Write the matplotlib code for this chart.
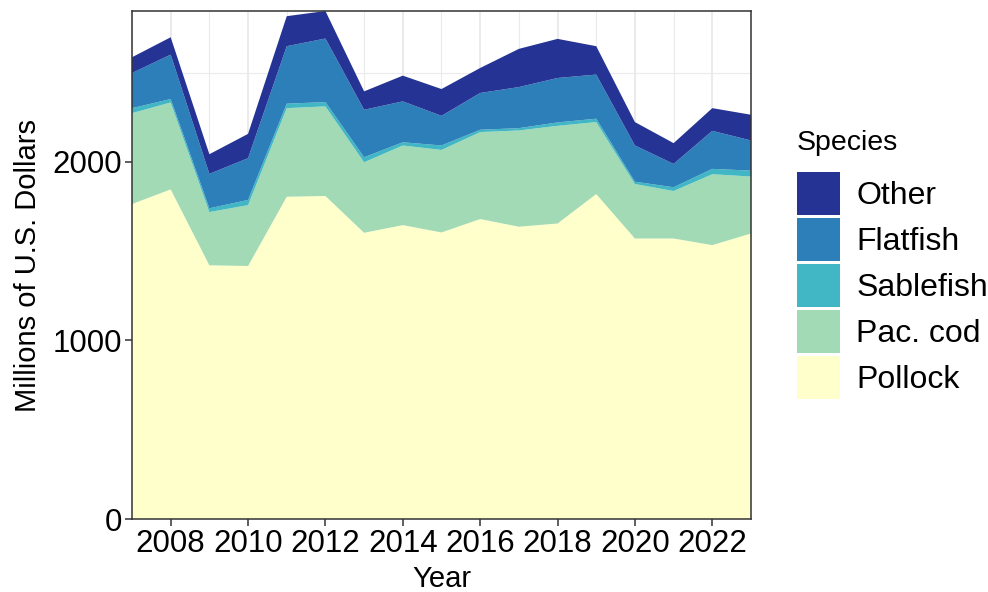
"""Stacked area chart: ex-vessel value by species, 2007-2023."""

import matplotlib

matplotlib.use("Agg")

import matplotlib.pyplot as plt
import numpy as np
from matplotlib.patches import Patch
from matplotlib.ticker import MultipleLocator


years = list(range(2007, 2024))

pollock = [1764, 1846, 1421, 1417, 1805, 1809, 1603, 1646, 1605,
           1680, 1637, 1655, 1820, 1571, 1571, 1534, 1599]
pac_cod = [509, 487, 298, 341, 496, 502, 395, 446, 462,
           487, 539, 547, 403, 305, 266, 397, 319]
sablefish = [28, 19, 21, 29, 25, 24, 28, 18, 25,
             13, 13, 19, 19, 13, 21, 30, 33]
flatfish = [197, 249, 193, 234, 322, 356, 266, 229, 166,
            206, 230, 249, 247, 203, 131, 213, 169]
other = [88, 97, 110, 136, 168, 154, 103, 144, 150,
         140, 214, 219, 159, 131, 116, 127, 144]

species = ["Pollock", "Pac. cod", "Sablefish", "Flatfish", "Other"]
colors = ["#ffffcc", "#a1dab4", "#41b6c4", "#2c7fb8", "#253494"]

plt.rcParams["font.family"] = ["Liberation Sans", "DejaVu Sans"]

fig = plt.figure(figsize=(9.88, 5.92), dpi=100)
ax = fig.add_axes([0.1336, 0.1233, 0.6265, 0.8581])

series = [pollock, pac_cod, sablefish, flatfish, other]
ax.stackplot(years, *series, colors=colors, linewidth=0, zorder=2)

total = np.sum(series, axis=0)
ax.set_xlim(years[0], years[-1])
ax.set_ylim(0, total.max())

ax.xaxis.set_major_locator(MultipleLocator(2))
ax.xaxis.set_minor_locator(MultipleLocator(1))
ax.yaxis.set_major_locator(MultipleLocator(1000))
ax.yaxis.set_minor_locator(MultipleLocator(500))

ax.grid(which="major", color="#ebebeb", linewidth=1.5, zorder=0)
ax.grid(which="minor", color="#ebebeb", linewidth=0.8, zorder=0)
ax.set_axisbelow(True)

for spine in ax.spines.values():
    spine.set_color("#333333")
    spine.set_linewidth(1.1)

ax.tick_params(which="major", length=5, width=1.1, color="#333333",
               labelsize=22.5, labelcolor="black", pad=2)
ax.tick_params(which="minor", length=0)

ax.set_xlabel("Year", fontsize=21, labelpad=4.5)
ax.set_ylabel("Millions of U.S. Dollars", fontsize=21, labelpad=8)

# legend title drawn separately so the gap to the keys can be matched
fig.text(0.8067, 0.7466, "Species", fontsize=20.5, ha="left", va="baseline")

handles = [Patch(facecolor=c, edgecolor="none") for c in colors[::-1]]
legend = fig.legend(
    handles,
    species[::-1],
    loc="upper left",
    bbox_to_anchor=(0.8067, 0.7095),
    frameon=False,
    fontsize=23,
    handlelength=1.35,
    handleheight=1.7,
    labelspacing=0.09,
    handletextpad=0.5,
    borderaxespad=0,
    borderpad=0,
)

fig.savefig("out.png", dpi=100)
plt.close(fig)
